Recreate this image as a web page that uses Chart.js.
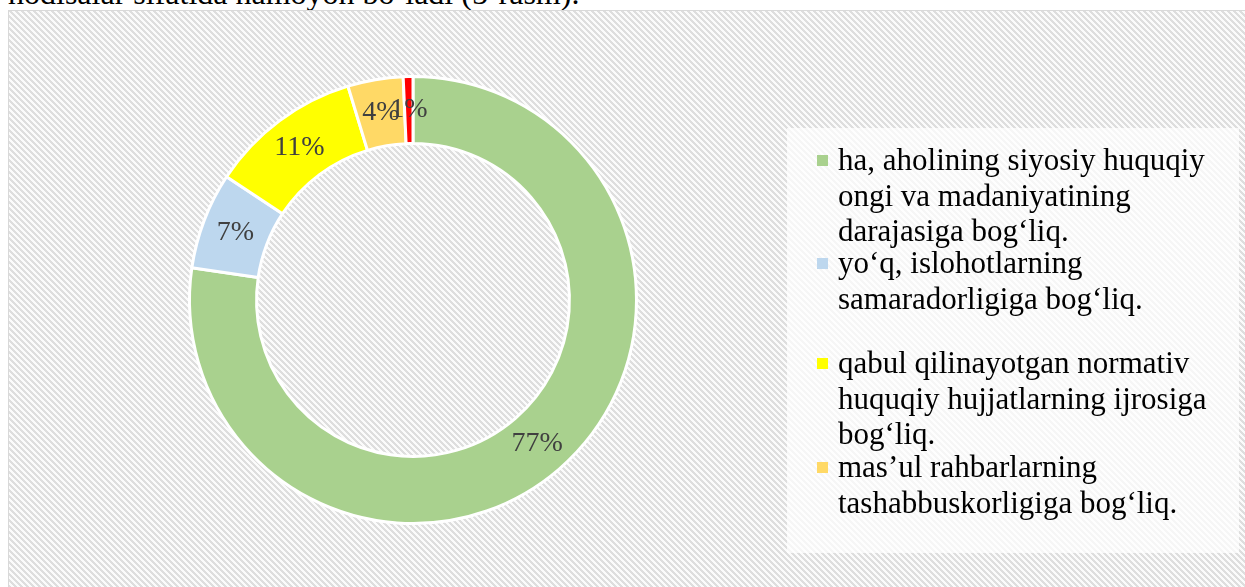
<!DOCTYPE html>
<html>
<head>
<meta charset="utf-8">
<script src="https://cdn.jsdelivr.net/npm/chart.js@4.4.1/dist/chart.umd.min.js"></script>
<style>
  body { margin: 0; background: #fff; width: 1245px; height: 587px; overflow: hidden; position: relative; font-family: "Liberation Serif", "Times New Roman", serif; }
  #topText { position: absolute; left: 8px; top: -23px; font-size: 32px; line-height: 32px; color: #000; white-space: nowrap; }
  #frame { position: absolute; left: 8px; top: 10px; width: 1260px; height: 600px; border: 1px solid #d9d9d9; background: #fff; }
  #legendBox { position: absolute; left: 787px; top: 128px; width: 452px; height: 425px; background: rgba(255,255,255,0.72); }
  #chart { position: absolute; left: 0; top: 0; }
  .lg-item { position: absolute; left: 817px; font-size: 31px; line-height: 35.6px; color: #000; white-space: nowrap; }
  .lg-box { position: absolute; left: 0; top: 13px; width: 11px; height: 11px; }
  .lg-text { position: absolute; left: 21px; top: 0; }
</style>
</head>
<body>
<div id="topText">hodisalar sifatida namoyon bo‘ladi (5-rasm).</div>
<div id="frame"></div>
<div id="legendBox"></div>
<canvas id="chart" width="1245" height="587"></canvas>
<div id="legend"></div>
<script>
// --- Data ---
const categories = [
    ['ha, aholining siyosiy huquqiy', 'ongi va madaniyatining', 'darajasiga bog‘liq.'],
    ['yo‘q, islohotlarning', 'samaradorligiga bog‘liq.'],
    ['qabul qilinayotgan normativ', 'huquqiy hujjatlarning ijrosiga', 'bog‘liq.'],
    ['mas’ul rahbarlarning', 'tashabbuskorligiga bog‘liq.'],
    ['']
];
const shares = [77.3, 7, 11, 4, 0.7];
const colors = ['#A9D18E', '#BDD7EE', '#FFFF00', '#FFD966', '#FF0000'];

// legend rows start (text top), one slot per visible item
const legendTops = [142, 245, 345, 449];

// --- hatched plot background (down diagonal, pixel tile) ---
(function () {
    const n = 6;
    const t = document.createElement('canvas');
    t.width = n; t.height = n;
    const c = t.getContext('2d');
    c.fillStyle = '#fbfbfb';
    c.fillRect(0, 0, n, n);
    c.fillStyle = '#dedede';
    for (let y = 0; y < n; y++) {
        for (let x = 0; x < n; x++) {
            if (((x - y) % n + n) % n < 3) c.fillRect(x, y, 1, 1);
        }
    }
    document.getElementById('frame').style.backgroundImage = 'url(' + t.toDataURL() + ')';
})();

// --- Percent labels on the ring ---
const ringLabels = {
    id: 'ringLabels',
    afterDatasetsDraw(chart) {
        const ctx = chart.ctx;
        const meta = chart.getDatasetMeta(0);
        ctx.save();
        ctx.font = '28px "Liberation Serif"';
        ctx.fillStyle = '#404040';
        ctx.textAlign = 'center';
        ctx.textBaseline = 'middle';
        meta.data.forEach((arc, i) => {
            const p = arc.tooltipPosition();
            ctx.fillText(Math.max(1, Math.round(shares[i])) + '%', p.x, p.y);
        });
        ctx.restore();
    }
};

const chart = new Chart(document.getElementById('chart'), {
    type: 'doughnut',
    data: {
        labels: categories,
        datasets: [{
            data: shares,
            backgroundColor: colors,
            borderColor: '#ffffff',
            borderWidth: 3
        }]
    },
    options: {
        responsive: false,
        animation: false,
        cutout: '70%',
        layout: { padding: { left: 188, right: 607, top: 75, bottom: 62 } },
        plugins: {
            legend: { display: false },
            tooltip: { enabled: false }
        }
    },
    plugins: [ringLabels]
});

// --- HTML legend from chart items ---
const items = Chart.overrides.doughnut.plugins.legend.labels.generateLabels(chart);
const legendEl = document.getElementById('legend');
let slot = 0;
items.forEach((it, i) => {
    const lines = categories[i].filter(s => s.length);
    if (!lines.length) return;
    const div = document.createElement('div');
    div.className = 'lg-item';
    div.style.top = legendTops[slot] + 'px';
    div.innerHTML = '<div class="lg-box" style="background:' + it.fillStyle + '"></div>' +
        '<div class="lg-text">' + lines.join('<br>') + '</div>';
    legendEl.appendChild(div);
    slot++;
});
</script>
</body>
</html>
